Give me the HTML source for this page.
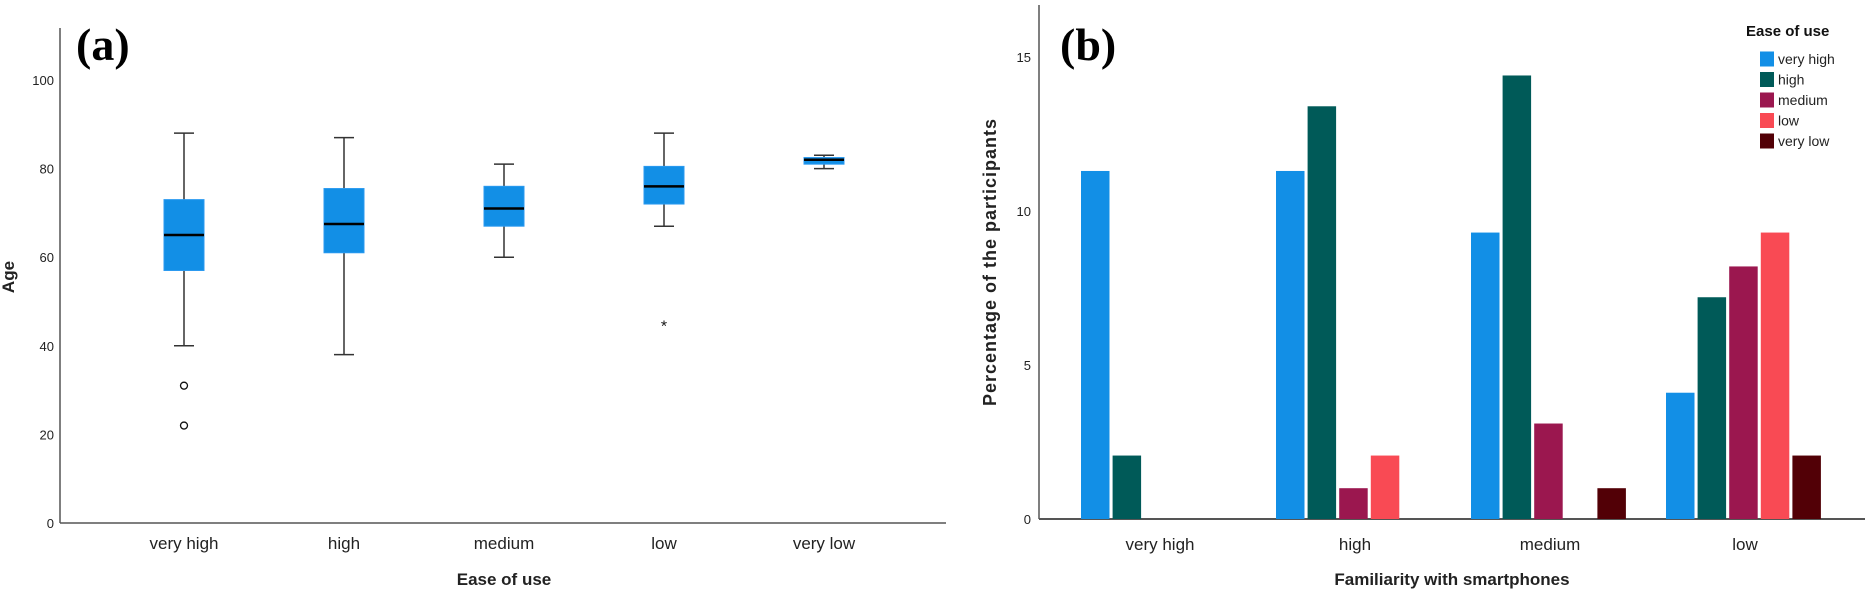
<!DOCTYPE html>
<html><head><meta charset="utf-8"><style>
html,body{margin:0;padding:0;background:#fff;}
svg{display:block;font-family:"Liberation Sans",Arial,sans-serif;}
</style></head><body>
<svg id="fig" width="1865" height="591" viewBox="0 0 1865 591" xmlns="http://www.w3.org/2000/svg">
<g id="pa"></g>
<g id="pb"></g>
</svg>
<script>
// Panel (a) data
const boxCats = ["very high","high","medium","low","very low"];
const boxMin = [40,38,60,67,80];
const boxQ1 = [57,61,67,72,81];
const boxMed = [65,67.5,71,76,82];
const boxQ3 = [73,75.5,76,80.5,82.5];
const boxMax = [88,87,81,88,83];
const outlierCat = [0,0,3];
const outlierVal = [31,22,45];
const outlierType = ["o","o","*"];
const ageTicks = [0,20,40,60,80,100];
// Panel (b) data
const famCats = ["very high","high","medium","low"];
const easeSeries = ["very high","high","medium","low","very low"];
const sVeryHigh = [11.3,11.3,9.3,4.1];
const sHigh = [2.06,13.4,14.4,7.2];
const sMedium = [0,1.0,3.1,8.2];
const sLow = [0,2.06,0,9.3];
const sVeryLow = [0,0,1.0,2.06];
const pctTicks = [0,5,10,15];

const NS="http://www.w3.org/2000/svg";
function mk(parent,tag,attrs,text){const e=document.createElementNS(NS,tag);for(const k in attrs)e.setAttribute(k,attrs[k]);if(text!==undefined)e.textContent=text;parent.appendChild(e);return e;}

// ---- Panel a ----
const pa=document.getElementById('pa');
const ay=v=>523-(523-80)*v/100;
const ax=i=>184+i*160;
let e;
e=mk(pa,'line',{x1:60,y1:28,x2:60,y2:523,stroke:'#555','stroke-width':1.5});

e=mk(pa,'line',{x1:60,y1:523,x2:946,y2:523,stroke:'#555','stroke-width':1.5});

ageTicks.forEach(t=>{
  e=mk(pa,'text',{x:54,y:ay(t)+5,'text-anchor':'end','font-size':13,fill:'#222'},String(t));
  
});
boxCats.forEach((c,i)=>{
  const x=ax(i),w=40;
  const g=mk(pa,'g',{});
  
  mk(g,'line',{x1:x,y1:ay(boxMax[i]),x2:x,y2:ay(boxQ3[i]),stroke:'#333','stroke-width':1.5});
  mk(g,'line',{x1:x,y1:ay(boxQ1[i]),x2:x,y2:ay(boxMin[i]),stroke:'#333','stroke-width':1.5});
  mk(g,'line',{x1:x-10,y1:ay(boxMax[i]),x2:x+10,y2:ay(boxMax[i]),stroke:'#333','stroke-width':1.5});
  mk(g,'line',{x1:x-10,y1:ay(boxMin[i]),x2:x+10,y2:ay(boxMin[i]),stroke:'#333','stroke-width':1.5});
  mk(g,'rect',{x:x-w/2,y:ay(boxQ3[i]),width:w,height:ay(boxQ1[i])-ay(boxQ3[i]),fill:'#128fe6',stroke:'#2a9af0','stroke-width':1});
  mk(g,'line',{x1:x-w/2,y1:ay(boxMed[i]),x2:x+w/2,y2:ay(boxMed[i]),stroke:'#000','stroke-width':2.5});
  e=mk(pa,'text',{x:x,y:549,'text-anchor':'middle','font-size':17,fill:'#222'},c);
  
});
outlierVal.forEach((v,k)=>{
  const x=ax(outlierCat[k]);
  if(outlierType[k]==='o'){e=mk(pa,'circle',{cx:x,cy:ay(v),r:3.5,fill:'none',stroke:'#111','stroke-width':1.3});}
  else{e=mk(pa,'text',{x:x,y:ay(v)+8,'text-anchor':'middle','font-size':16,fill:'#111'},'*');}
  
});
e=mk(pa,'text',{x:504,y:585,'text-anchor':'middle','font-size':17,'font-weight':'bold',fill:'#222'},'Ease of use');

e=mk(pa,'text',{x:0,y:0,transform:'translate(14,277) rotate(-90)','text-anchor':'middle','font-size':17,'font-weight':'bold',fill:'#222'},'Age');

e=mk(pa,'text',{x:76,y:60,'font-size':46,'font-weight':'bold','font-family':'"Liberation Serif",serif',fill:'#000'},'(a)');


// ---- Panel b ----
const pb=document.getElementById('pb');
const by=v=>519-(519-57)*v/15;
const gx=i=>1160+i*195;
const slot=31.6,bw=28.5;
const series=[sVeryHigh,sHigh,sMedium,sLow,sVeryLow];
const colors=['#128fe6','#005a58','#9b174f','#f94a54','#520006'];
e=mk(pb,'line',{x1:1039,y1:5,x2:1039,y2:519,stroke:'#555','stroke-width':1.5});

e=mk(pb,'line',{x1:1039,y1:519,x2:1865,y2:519,stroke:'#555','stroke-width':2});

pctTicks.forEach(t=>{
  e=mk(pb,'text',{x:1031,y:by(t)+5,'text-anchor':'end','font-size':13,fill:'#222'},String(t));
  
});
famCats.forEach((c,i)=>{
  series.forEach((s,j)=>{
    if(s[i]<=0) return;
    const x=gx(i)-2.5*slot+j*slot;
    e=mk(pb,'rect',{x:x,y:by(s[i]),width:bw,height:519-by(s[i]),fill:colors[j]});
    
    
  });
  e=mk(pb,'text',{x:gx(i),y:550,'text-anchor':'middle','font-size':17,fill:'#222'},c);
  
});
e=mk(pb,'text',{x:1452,y:585,'text-anchor':'middle','font-size':17,'font-weight':'bold',fill:'#222'},'Familiarity with smartphones');

e=mk(pb,'text',{x:0,y:0,transform:'translate(996,262) rotate(-90)','text-anchor':'middle','font-size':18,'font-weight':'bold',fill:'#222','letter-spacing':'1'},'Percentage of the participants');

e=mk(pb,'text',{x:1060,y:60,'font-size':46,'font-weight':'bold','font-family':'"Liberation Serif",serif',fill:'#000'},'(b)');

const lg=mk(pb,'g',{});

e=mk(lg,'text',{x:1746,y:36,'font-size':15,'font-weight':'bold',fill:'#111'},'Ease of use');

easeSeries.forEach((s,j)=>{
  const cy=59+j*20.5;
  const g=mk(lg,'g',{});
  
  mk(g,'rect',{x:1760,y:cy-7.5,width:14,height:15,fill:colors[j]});
  mk(g,'text',{x:1778,y:cy+5,'font-size':14,fill:'#222'},s);
});
</script>
</body></html>
